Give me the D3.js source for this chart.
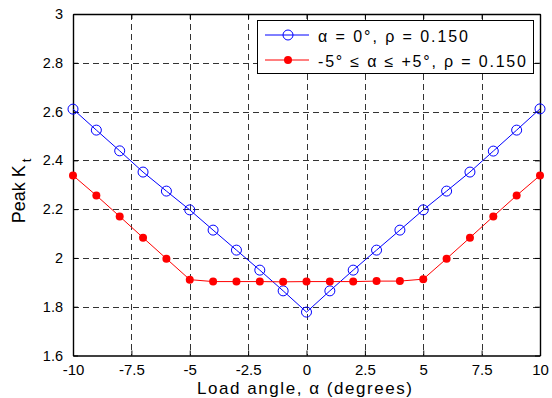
<!DOCTYPE html>
<html>
<head>
<meta charset="utf-8">
<script src="https://cdn.jsdelivr.net/npm/d3@7"></script>
<style>
  html, body { margin: 0; padding: 0; background: #fff; }
  svg { display: block; font-family: "Liberation Sans", Arial, sans-serif; }
</style>
</head>
<body>
<svg id="chart" width="552" height="398"></svg>
<script>
// Load angle in degrees
const angles = [-10, -9, -8, -7, -6, -5, -4, -3, -2, -1, 0, 1, 2, 3, 4, 5, 6, 7, 8, 9, 10];
// Peak Kt, fixed load angle α = 0°
const kFixed = [2.610, 2.524, 2.439, 2.352, 2.274, 2.197, 2.114, 2.032, 1.950, 1.865, 1.778,
                1.865, 1.950, 2.032, 2.114, 2.197, 2.274, 2.352, 2.438, 2.524, 2.611];
// Peak Kt, load angle range -5° ≤ α ≤ +5°
const kRange = [2.338, 2.256, 2.170, 2.083, 1.997, 1.911, 1.903, 1.903, 1.903, 1.902, 1.903,
                1.903, 1.903, 1.905, 1.905, 1.913, 1.997, 2.083, 2.170, 2.256, 2.338];
const xTicks = [-10, -7.5, -5, -2.5, 0, 2.5, 5, 7.5, 10];
const yTicks = [1.6, 1.8, 2, 2.2, 2.4, 2.6, 2.8, 3];
const legendLabels = ["α = 0°, ρ = 0.150", "-5° ≤ α ≤ +5°, ρ = 0.150"];

const svg = d3.select("#chart");
const m = { left: 73, right: 540, top: 14, bottom: 355.5 };
const x = d3.scaleLinear().domain([-10, 10]).range([m.left, m.right]);
const y = d3.scaleLinear().domain([1.6, 3]).range([m.bottom, m.top]);

// dashed grid at the inner ticks
const grid = svg.append("g").attr("stroke", "#333").attr("stroke-width", 1)
  .attr("stroke-dasharray", "6,4").attr("fill", "none");
xTicks.slice(1, -1).forEach(t => grid.append("line")
  .attr("x1", Math.round(x(t)) + 0.5).attr("x2", Math.round(x(t)) + 0.5)
  .attr("y1", m.top).attr("y2", m.bottom));
yTicks.slice(1, -1).forEach(t => grid.append("line")
  .attr("x1", m.left).attr("x2", m.right)
  .attr("y1", Math.round(y(t)) + 0.5).attr("y2", Math.round(y(t)) + 0.5));

// boxed axes with inward ticks
const fmt = d => String(d);
const axB = svg.append("g").attr("transform", `translate(0,${m.bottom})`)
  .call(d3.axisBottom(x).tickValues(xTicks).tickFormat(fmt).tickSizeInner(-5).tickSizeOuter(0).tickPadding(9));
const axL = svg.append("g").attr("transform", `translate(${m.left},0)`)
  .call(d3.axisLeft(y).tickValues(yTicks).tickFormat(fmt).tickSizeInner(-5).tickSizeOuter(0).tickPadding(10));
const axT = svg.append("g").attr("transform", `translate(0,${m.top})`)
  .call(d3.axisTop(x).tickValues(xTicks).tickFormat("").tickSizeInner(-5).tickSizeOuter(0));
const axR = svg.append("g").attr("transform", `translate(${m.right},0)`)
  .call(d3.axisRight(y).tickValues(yTicks).tickFormat("").tickSizeInner(-5).tickSizeOuter(0));
[axB, axL, axT, axR].forEach(a => {
  a.selectAll("path").attr("stroke", "#000").attr("stroke-width", 1.4);
  a.selectAll("line").attr("stroke", "#000");
  a.selectAll("text").attr("font-size", 15).attr("fill", "#000")
    .attr("font-family", "Liberation Sans, Arial, sans-serif");
});
axL.selectAll("text").attr("font-size", 14.5);

// series
const line = d3.line().x((d, i) => x(angles[i])).y(d => y(d));
svg.append("path").datum(kFixed).attr("d", line)
  .attr("fill", "none").attr("stroke", "#0000ff").attr("stroke-width", 1);
svg.append("path").datum(kRange).attr("d", line)
  .attr("fill", "none").attr("stroke", "#ff0000").attr("stroke-width", 1);
svg.append("g").selectAll("circle").data(kFixed).join("circle")
  .attr("cx", (d, i) => x(angles[i])).attr("cy", d => y(d)).attr("r", 5)
  .attr("fill", "none").attr("stroke", "#0000ff").attr("stroke-width", 1);
svg.append("g").selectAll("circle").data(kRange).join("circle")
  .attr("cx", (d, i) => x(angles[i])).attr("cy", d => y(d)).attr("r", 4)
  .attr("fill", "#ff0000");

// legend
const lg = svg.append("g");
lg.append("rect").attr("x", 257.5).attr("y", 20.5).attr("width", 276).attr("height", 53)
  .attr("fill", "#fff").attr("stroke", "#000").attr("stroke-width", 1);
const colors = ["#0000ff", "#ff0000"];
const textWidths = [150, 208];
legendLabels.forEach((lab, i) => {
  const cy = 35 + i * 25;
  lg.append("line").attr("x1", 265).attr("x2", 309).attr("y1", cy).attr("y2", cy)
    .attr("stroke", colors[i]).attr("stroke-width", 1);
  if (i === 0) {
    lg.append("circle").attr("cx", 288).attr("cy", cy).attr("r", 5)
      .attr("fill", "none").attr("stroke", colors[i]);
  } else {
    lg.append("circle").attr("cx", 288).attr("cy", cy).attr("r", 4).attr("fill", colors[i]);
  }
  lg.append("text").attr("x", 318).attr("y", cy + 6.5).attr("font-size", 16)
    .attr("textLength", textWidths[i]).attr("lengthAdjust", "spacing")
    .attr("fill", "#000").text(lab);
});

// axis titles
svg.append("text").attr("x", 197).attr("y", 394)
  .attr("font-size", 17).attr("textLength", 215).attr("lengthAdjust", "spacing")
  .text("Load angle, α (degrees)");
const yl = svg.append("text").attr("transform", "translate(25,191) rotate(-90)")
  .attr("text-anchor", "middle").attr("font-size", 18);
yl.append("tspan").text("Peak K");
yl.append("tspan").attr("font-size", 13).attr("dx", 3).attr("dy", 6).text("t");
</script>
</body>
</html>
